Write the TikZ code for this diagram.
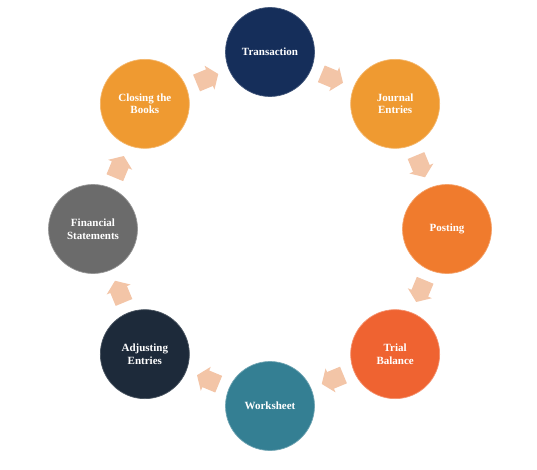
\documentclass[tikz,border=0pt]{standalone}
\usepackage{fontspec}
\setmainfont{Liberation Serif}
\definecolor{cnavy}{HTML}{152E5A}
\definecolor{corangeA}{HTML}{EF9A31}
\definecolor{corangeB}{HTML}{F07B2D}
\definecolor{corangeC}{HTML}{EF6331}
\definecolor{cteal}{HTML}{347F93}
\definecolor{cdark}{HTML}{1D2A3A}
\definecolor{cgray}{HTML}{6B6B6B}
\definecolor{carrow}{HTML}{F3C5A7}
\tikzset{
  stage/.style={circle, minimum size=89pt, inner sep=0pt, align=center,
    text=white, font=\fontsize{11}{12.7}\selectfont\bfseries,
    line width=0.7pt},
  blockarrow/.style={fill=carrow, draw=none}
}
\newcommand{\myarrow}[2]{%
  \begin{scope}[shift={(#1:163)}, rotate=#2]
    \fill[blockarrow] (-12,-9) -- (2,-9) -- (2,-13) -- (11.5,0) -- (2,13) -- (2,9) -- (-12,9) -- cycle;
  \end{scope}}
\begin{document}
\begin{tikzpicture}[x=1pt,y=1pt]
\useasboundingbox (0,0) rectangle (537,469);
\begin{scope}[shift={(270,240)}]
  \node[stage, fill=cnavy, draw=cnavy!80!white] (tr) at (90:177) {Transaction};
  \node[stage, fill=corangeA, draw=corangeA!70!white] (je) at (45:177) {Journal\\Entries};
  \node[stage, fill=corangeB, draw=corangeB!70!white] (po) at (0:177) {Posting};
  \node[stage, fill=corangeC, draw=corangeC!70!white] (tb) at (-45:177) {Trial\\Balance};
  \node[stage, fill=cteal, draw=cteal!70!white] (ws) at (-90:177) {Worksheet};
  \node[stage, fill=cdark, draw=cdark!80!white] (ae) at (-135:177) {Adjusting\\Entries};
  \node[stage, fill=cgray, draw=cgray!70!white] (fs) at (180:177) {Financial\\Statements};
  \node[stage, fill=corangeA, draw=corangeA!70!white] (cb) at (135:177) {Closing the\\Books};
  \myarrow{67.5}{-22.5}
  \myarrow{22.5}{-67.5}
  \myarrow{-22.5}{-112.5}
  \myarrow{-67.5}{-157.5}
  \myarrow{-112.5}{-202.5}
  \myarrow{-157.5}{-247.5}
  \myarrow{157.5}{67.5}
  \myarrow{112.5}{22.5}
\end{scope}
\end{tikzpicture}
\end{document}
